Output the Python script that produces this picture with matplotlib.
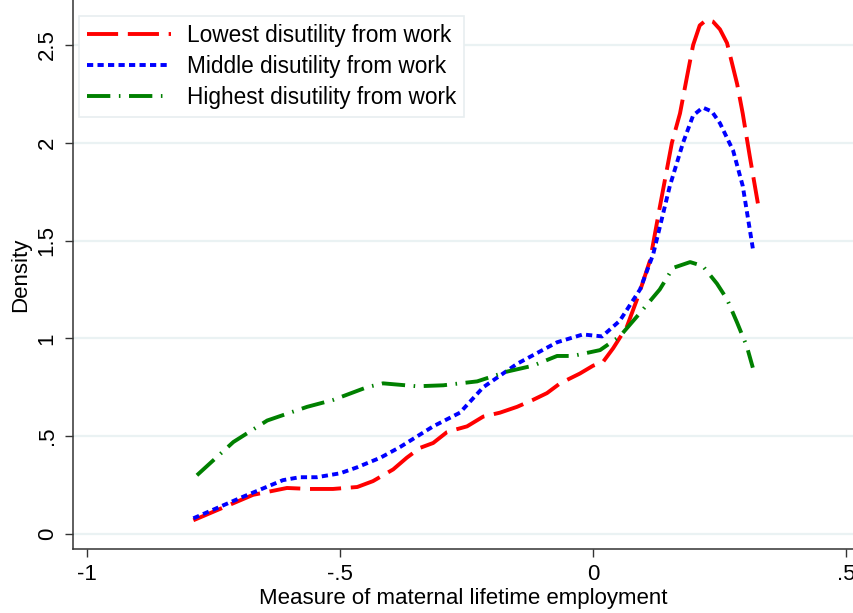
import matplotlib
matplotlib.use('Agg')
import matplotlib.pyplot as plt

plt.rcParams['font.family'] = ['Liberation Sans', 'DejaVu Sans']

# 밀도 곡선 데이터
low_x = [-0.79, -0.672, -0.605, -0.56, -0.514, -0.466, -0.435, -0.395, -0.368, -0.342,
         -0.316, -0.289, -0.277, -0.249, -0.217, -0.184, -0.15, -0.119, -0.091, -0.065,
         -0.026, 0.0, 0.02, 0.04, 0.067, 0.09, 0.113, 0.132, 0.156, 0.172, 0.186, 0.198,
         0.211, 0.225, 0.237, 0.251, 0.265, 0.285, 0.296, 0.31, 0.326]
low_y = [0.07, 0.20, 0.235, 0.23, 0.23, 0.24, 0.27, 0.33, 0.39, 0.44,
         0.465, 0.52, 0.53, 0.55, 0.60, 0.62, 0.65, 0.685, 0.72, 0.77,
         0.82, 0.86, 0.88, 0.95, 1.06, 1.22, 1.40, 1.67, 2.0, 2.15, 2.34, 2.50,
         2.60, 2.63, 2.62, 2.58, 2.51, 2.30, 2.15, 1.93, 1.69]

mid_x = [-0.79, -0.692, -0.613, -0.58, -0.546, -0.50, -0.467, -0.42, -0.381, -0.316,
         -0.263, -0.217, -0.15, -0.071, -0.02, 0.018, 0.053, 0.093, 0.119, 0.152,
         0.178, 0.198, 0.217, 0.235, 0.251, 0.277, 0.296, 0.316]
mid_y = [0.08, 0.19, 0.275, 0.29, 0.29, 0.31, 0.34, 0.39, 0.445, 0.55,
         0.62, 0.75, 0.87, 0.98, 1.02, 1.01, 1.09, 1.25, 1.43, 1.78,
         2.0, 2.14, 2.18, 2.16, 2.10, 1.96, 1.78, 1.46]

high_x = [-0.783, -0.711, -0.644, -0.565, -0.514, -0.447, -0.415, -0.348, -0.296, -0.229,
          -0.170, -0.119, -0.071, -0.04, 0.014, 0.053, 0.093, 0.132, 0.158, 0.192,
          0.217, 0.245, 0.265, 0.285, 0.304, 0.316]
high_y = [0.30, 0.47, 0.58, 0.65, 0.685, 0.75, 0.77, 0.755, 0.76, 0.78,
          0.83, 0.86, 0.91, 0.91, 0.94, 1.01, 1.13, 1.25, 1.36, 1.39,
          1.37, 1.28, 1.20, 1.08, 0.96, 0.85]

x_ticks = [-1, -0.5, 0, 0.5]
x_labels = ['-1', '-.5', '0', '.5']
y_ticks = [0, 0.5, 1, 1.5, 2, 2.5]
y_labels = ['0', '.5', '1', '1.5', '2', '2.5']

fig = plt.figure(figsize=(8.54, 6.13), dpi=100)
ax = fig.add_axes([73 / 854, 64 / 613, 1 - 73 / 854, 1 - 64 / 613])

ax.plot(low_x, low_y, color='#ff0000', linewidth=2.8, dashes=(8, 2.5),
        label='Lowest disutility from work')
ax.plot(mid_x, mid_y, color='#0000ff', linewidth=2.8, dashes=(1.6, 1.1),
        label='Middle disutility from work')
ax.plot(high_x, high_y, color='#008000', linewidth=2.8, dashes=(6, 2.2, 0.4, 2.2),
        label='Highest disutility from work')

ax.set_xlim(-1.028, 0.516)
ax.set_ylim(-0.077, 2.73)

# 격자와 축
ax.set_yticks(y_ticks)
ax.set_yticklabels(y_labels, rotation=90, va='center')
ax.set_xticks(x_ticks)
ax.set_xticklabels(x_labels)
ax.grid(axis='y', color='#eaf2f3', linewidth=1.6)
ax.set_axisbelow(True)
ax.tick_params(labelsize=16, length=6, width=1, color='#333333', pad=5)
for side in ['top', 'right']:
    ax.spines[side].set_visible(False)
for side in ['left', 'bottom']:
    ax.spines[side].set_color('#333333')
    ax.spines[side].set_linewidth(1.1)

ax.set_xlabel('Measure of maternal lifetime employment', fontsize=16, labelpad=2)
ax.set_ylabel('Density', fontsize=16, labelpad=4)

leg = ax.legend(loc='upper left', bbox_to_anchor=(0.008, 0.971), fontsize=16.3,
                handlelength=3.7, handletextpad=0.7, labelspacing=0.36,
                borderpad=0.35, borderaxespad=0, fancybox=False, framealpha=1)
leg.get_frame().set_edgecolor('#e8eef0')
leg.get_frame().set_linewidth(1.2)

fig.savefig('out.png', dpi=100)
